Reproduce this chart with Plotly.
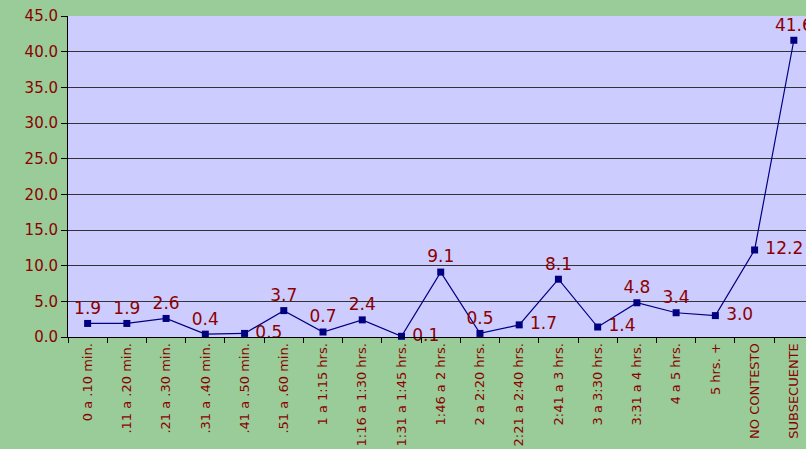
import plotly.graph_objects as go

categories = ["0 a .10 min.", ".11 a .20 min.", ".21 a .30 min.", ".31 a .40 min.",
              ".41 a .50 min.", ".51 a .60 min.", "1 a 1:15 hrs.", "1:16 a 1:30 hrs.",
              "1:31 a 1:45 hrs.", "1:46 a 2 hrs.", "2 a 2:20 hrs.", "2:21 a 2:40 hrs.",
              "2:41 a 3 hrs.", "3 a 3:30 hrs.", "3:31 a 4 hrs.", "4 a 5 hrs.",
              "5 hrs. +", "NO CONTESTO", "SUBSECUENTE"]
values = [1.9, 1.9, 2.6, 0.4, 0.5, 3.7, 0.7, 2.4, 0.1, 9.1, 0.5, 1.7, 8.1, 1.4, 4.8, 3.4, 3.0, 12.2, 41.6]
label_pos = ["top center", "top center", "top center", "top center", "middle right",
             "top center", "top center", "top center", "middle right", "top center",
             "top center", "middle right", "top center", "middle right", "top center",
             "top center", "middle right", "middle right", "top center"]
y_ticks = [0, 5, 10, 15, 20, 25, 30, 35, 40, 45]

red = "#8B0000"
font_family = "DejaVu Sans, Liberation Sans, Arial"
labels = [("\u00a0" if p == "middle right" else "") + f"{v:.1f}" for v, p in zip(values, label_pos)]

fig = go.Figure()
fig.add_trace(go.Scatter(
    x=categories, y=values, mode="lines+markers+text",
    line=dict(color="#000080", width=1.2),
    marker=dict(symbol="square", size=7, color="#000080"),
    text=labels, textposition=label_pos,
    textfont=dict(family=font_family, size=17, color=red),
    cliponaxis=False, showlegend=False, hoverinfo="skip",
))
fig.update_layout(
    width=806, height=449,
    margin=dict(l=68, r=0, t=16, b=112, autoexpand=False),
    paper_bgcolor="#99CC99", plot_bgcolor="#CCCCFF",
    font=dict(family=font_family, color=red),
    xaxis=dict(type="category", range=[-0.5, 18.31], tickson="boundaries",
               ticks="outside", ticklen=5, tickcolor="black",
               tickangle=-90, tickfont=dict(size=13, color=red),
               ticklabeloverflow="allow", automargin=False,
               showline=True, linecolor="black", linewidth=1, showgrid=False),
    yaxis=dict(range=[0, 45], tickvals=y_ticks, ticktext=[f"{t:.1f}" for t in y_ticks],
               ticks="outside", ticklen=6, tickcolor="black",
               tickfont=dict(size=15, color=red), automargin=False,
               showline=True, linecolor="black", linewidth=1,
               showgrid=True, gridcolor="#333333", gridwidth=1, zeroline=False),
)
fig.write_html("out.html", config={"displayModeBar": False, "staticPlot": True},
               post_script="document.body.style.margin='0';document.body.style.overflow='hidden';")
